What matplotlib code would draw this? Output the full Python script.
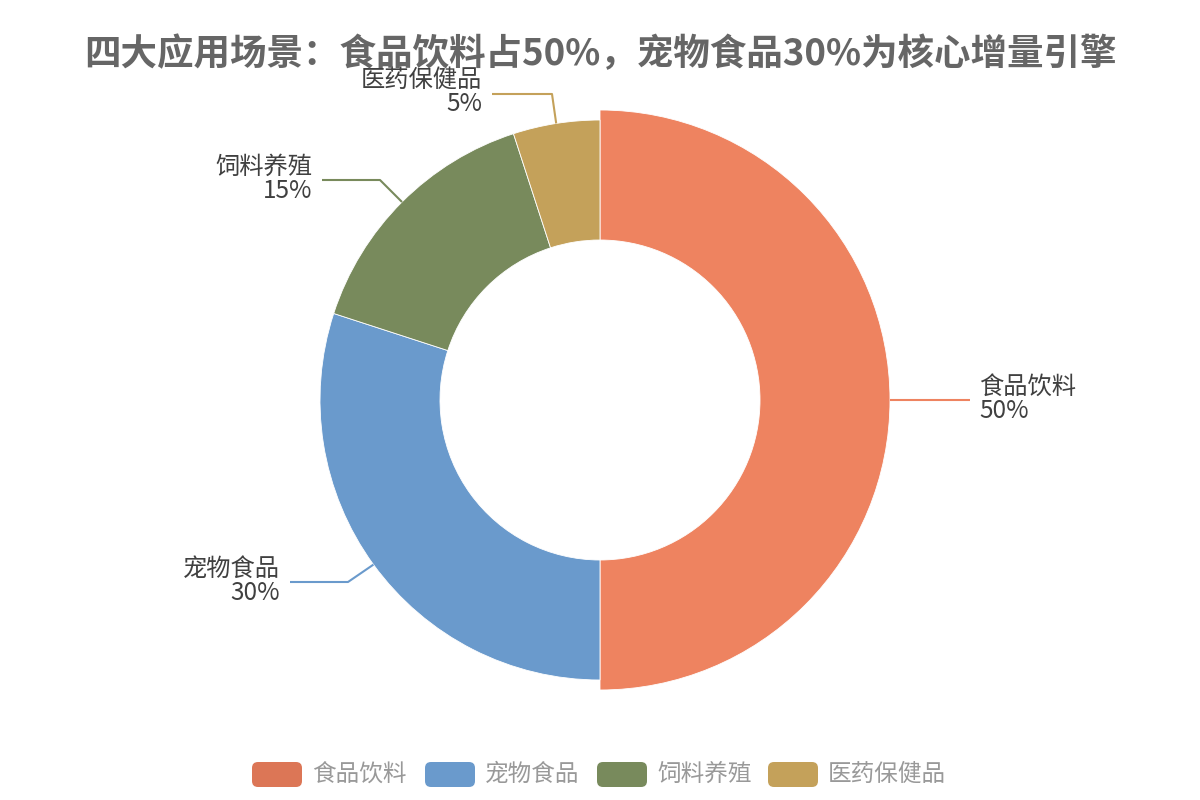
import matplotlib
matplotlib.use("Agg")
import matplotlib.pyplot as plt
from matplotlib.patches import FancyBboxPatch
import numpy as np

plt.rcParams['font.family'] = ['Noto Sans CJK SC', 'DejaVu Sans']

categories = ['食品饮料', '宠物食品', '饲料养殖', '医药保健品']
values = [50, 30, 15, 5]
slice_colors = ['#EE8360', '#6A9ACC', '#788A5C', '#C4A15A']
legend_colors = ['#DC7656', '#6A9ACC', '#788A5C', '#C4A15A']
title = '四大应用场景：食品饮料占50%，宠物食品30%为核心增量引擎'

W, H = 1200, 800
fig = plt.figure(figsize=(12, 8), dpi=100)
ax = fig.add_axes([0, 0, 1, 1])

def Y(py):
    return H - py

cx, cy = 600, Y(400)
R, r_in = 280, 160
wedges, _ = ax.pie(values, colors=slice_colors, startangle=90, counterclock=False,
                   center=(cx, cy), radius=R, frame=True,
                   wedgeprops=dict(width=R - r_in, edgecolor='white', linewidth=0.6))
ax.set_xlim(0, W)
ax.set_ylim(0, H)
ax.axis('off')
# emphasized first slice
wedges[0].set_radius(290)
wedges[0].set_width(290 - r_in)

total = sum(values)
start = 90.0
label_color = '#404040'
fs = 17.5
for i, (cat, v) in enumerate(zip(categories, values)):
    span = 360.0 * v / total
    mid = np.deg2rad(start - span / 2)
    start -= span
    rr = 290 if i == 0 else R
    x0 = cx + rr * np.cos(mid)
    y0 = cy + rr * np.sin(mid)
    if i == 0:
        pts = [(x0, y0), (970, Y(400))]
        tx, ha = 979, 'left'
        tyc = Y(399)
    elif i == 1:
        pts = [(x0, y0), (348, Y(582)), (290, Y(582))]
        tx, ha = 280, 'right'
        tyc = Y(581)
    elif i == 2:
        pts = [(x0, y0), (380, Y(180)), (322, Y(180))]
        tx, ha = 312, 'right'
        tyc = Y(179)
    else:
        pts = [(x0, y0), (552, Y(94)), (492, Y(94))]
        tx, ha = 482, 'right'
        tyc = Y(92)
    xs, ys = zip(*pts)
    ax.plot(xs, ys, color=legend_colors[i] if i else slice_colors[0], lw=1.5,
            solid_capstyle='butt')
    ax.text(tx, tyc, f'{cat}\n{v}%', ha=ha, va='center', multialignment=ha,
            fontsize=fs, color=label_color, linespacing=0.9)

ax.text(600, Y(55), title, ha='center', va='center', fontsize=26.3,
        fontweight='bold', color='#666666')

leg_rect_x = [252, 425, 597, 768]
for i, cat in enumerate(categories):
    x = leg_rect_x[i]
    box = FancyBboxPatch((x, Y(787)), 50, 25, boxstyle='round,pad=0,rounding_size=6',
                         facecolor=legend_colors[i], edgecolor='none')
    ax.add_patch(box)
    ax.text(x + 60, Y(774), cat, ha='left', va='center', fontsize=17, color='#999999')

fig.savefig('out.png', dpi=100, facecolor='white')
